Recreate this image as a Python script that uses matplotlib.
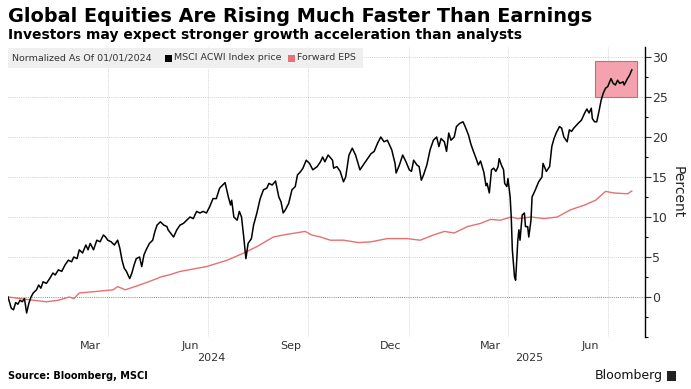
import numpy as np
import pandas as pd
import matplotlib
matplotlib.use("Agg")
import matplotlib.pyplot as plt
import matplotlib.dates as mdates
import matplotlib.transforms as mtransforms
from matplotlib.patches import Rectangle

# days since 2024-01-01 and % change
msci_day = [0, 3, 5, 7, 9, 11, 13, 15, 17, 19, 21, 23, 26, 28, 30, 32, 35, 38, 41, 43,
            46, 49, 52, 55, 58, 60, 63, 65, 68, 71, 73, 75, 78, 81, 84, 87, 89, 91, 94, 97,
            100, 102, 104, 106, 108, 111, 113, 115, 117, 120, 122, 124, 126, 129, 132, 134,
            136, 139, 142, 145, 146, 151, 154, 157, 160, 163, 166, 169, 172, 175, 178, 181,
            184, 187, 190, 193, 198, 201, 203, 204, 206, 209, 211, 213, 215, 217, 219, 222,
            224, 227, 230, 233, 236, 238, 241, 244, 247, 249, 251, 253, 256, 259, 262, 264,
            267, 269, 272, 275, 278, 282, 285, 287, 289, 292, 296, 297, 300, 303, 306, 308,
            311, 314, 317, 321, 324, 328, 331, 334, 337, 340, 343, 346, 348, 350, 353, 354,
            357, 360, 363, 366, 368, 370, 373, 375, 377, 379, 382, 385, 388, 391, 393, 395,
            398, 400, 402, 404, 407, 409, 412, 415, 417, 420, 422, 424, 427, 429, 431, 434,
            436, 437, 439, 441, 443, 445, 447, 448, 450, 452, 453, 455, 456, 458, 459, 460,
            462, 463, 465, 466, 467, 469, 471, 472, 474, 475, 477, 478, 481, 484, 487, 488,
            491, 494, 496, 498, 500, 503, 505, 507, 510, 512, 514, 516, 520, 523, 526, 528,
            530, 532, 533, 535, 537, 539, 541, 543, 545, 547, 550, 552, 554, 556, 558, 561,
            562, 565, 567, 569]
msci_pct = [0.0, -1.4, -1.6, -0.7, -0.9, -0.4, -0.6, -0.2, -2.0, -0.8, 0.0, 0.5, 0.9, 1.5,
            1.1, 1.9, 1.7, 2.3, 3.0, 2.75, 3.4, 3.2, 4.0, 4.6, 4.4, 5.0, 4.8, 5.9, 5.5, 6.5,
            5.9, 6.7, 5.9, 7.1, 6.9, 7.75, 7.5, 7.1, 6.9, 6.5, 7.1, 6.1, 4.6, 3.6, 3.2, 2.3,
            3.0, 4.0, 4.8, 5.0, 3.8, 5.25, 5.9, 6.7, 7.1, 8.2, 9.0, 9.4, 9.0, 8.8, 8.4, 7.5,
            8.4, 9.0, 9.2, 9.6, 10.0, 9.8, 10.7, 10.5, 10.7, 10.5, 11.3, 12.3, 12.3, 13.6,
            14.3, 12.5, 11.5, 12.1, 10.0, 9.6, 10.7, 10.0, 7.5, 4.8, 6.7, 7.3, 9.0, 10.5,
            12.3, 13.4, 13.6, 14.2, 14.0, 14.5, 12.5, 11.9, 10.5, 10.9, 11.7, 13.4, 13.8,
            15.25, 15.7, 16.1, 17.1, 16.7, 15.9, 16.3, 16.9, 17.5, 16.9, 17.75, 17.1, 16.1,
            16.3, 15.7, 14.4, 15.0, 17.75, 18.6, 17.75, 15.9, 16.5, 17.3, 17.9, 18.2, 19.2,
            20.0, 19.4, 19.6, 19.0, 18.4, 16.7, 15.5, 16.5, 17.75, 16.9, 15.9, 15.7, 17.1,
            16.5, 16.3, 14.6, 15.25, 16.5, 18.4, 19.6, 20.0, 18.8, 19.8, 19.4, 18.2, 20.5,
            19.6, 20.0, 21.3, 21.7, 21.9, 21.3, 20.25, 19.2, 18.4, 17.3, 16.5, 17.0, 15.6,
            13.9, 14.2, 13.0, 15.9, 16.1, 15.7, 16.3, 17.3, 16.5, 15.9, 14.2, 13.8, 14.8,
            12.5, 10.0, 5.9, 2.5, 2.1, 7.1, 8.4, 7.1, 10.25, 10.5, 8.8, 8.8, 7.5, 9.6, 12.5,
            13.4, 14.4, 15.0, 16.7, 15.7, 16.3, 18.8, 19.8, 20.5, 21.3, 21.1, 20.0, 19.4,
            20.9, 20.7, 21.1, 21.7, 22.1, 23.0, 23.5, 23.0, 23.6, 22.3, 21.9, 21.9, 23.2,
            24.6, 25.5, 26.1, 26.3, 27.3, 26.7, 26.5, 27.1, 26.7, 26.9, 26.5, 27.3, 27.75,
            28.4]

eps_day = [0, 23, 35, 46, 56, 60, 65, 81, 96, 100, 107, 120, 136, 139, 148, 157, 181,
           200, 215, 227, 242, 251, 271, 277, 285, 294, 306, 320, 331, 346, 364, 376, 388,
           398, 407, 419, 431, 440, 449, 459, 465, 477, 489, 501, 513, 526, 536, 545, 553,
           565, 569]
eps_pct = [0.0, -0.4, -0.6, -0.4, 0.0, -0.2, 0.5, 0.7, 0.9, 1.3, 0.9, 1.5, 2.3, 2.5, 2.8,
           3.2, 3.8, 4.6, 5.5, 6.3, 7.5, 7.75, 8.2, 7.75, 7.5, 7.1, 7.1, 6.8, 6.9, 7.3,
           7.3, 7.1, 7.75, 8.2, 8.0, 8.8, 9.2, 9.7, 9.6, 10.0, 9.8, 10.0, 9.8, 10.0, 10.9,
           11.5, 12.1, 13.2, 13.0, 12.9, 13.25]

box_start, box_end = "2025-06-19", "2025-07-28"
box_low, box_high = 25.0, 29.5

month_ticks = ["2024-03-16", "2024-06-15", "2024-09-15", "2024-12-15", "2025-03-16", "2025-06-15"]
month_labels = ["Mar", "Jun", "Sep", "Dec", "Mar", "Jun"]
year_ticks = ["2024-07-04", "2025-04-20"]
year_labels = ["2024", "2025"]
quarter_lines = ["2024-04-01", "2024-07-01", "2024-10-01", "2025-01-01", "2025-04-01", "2025-07-01"]

base = pd.Timestamp("2024-01-01")
msci_dates = base + pd.to_timedelta(msci_day, unit="D")
eps_dates = base + pd.to_timedelta(eps_day, unit="D")

W, H = 691, 389
fig = plt.figure(figsize=(W / 100, H / 100), dpi=100)
ax = fig.add_axes([8 / W, 1 - 337 / H, (645 - 8) / W, (337 - 47) / H])

ax.plot(eps_dates, eps_pct, color="#e5716f", lw=1.0, zorder=3)
ax.plot(msci_dates, msci_pct, color="black", lw=1.1, zorder=4)

x0 = mdates.date2num(pd.Timestamp(box_start))
x1 = mdates.date2num(pd.Timestamp(box_end))
ax.add_patch(Rectangle((x0, box_low), x1 - x0, box_high - box_low,
                       facecolor="#f4a3ae", edgecolor="#c96a75", lw=0.8, zorder=2))

ax.set_xlim(base, pd.Timestamp("2025-08-04"))
ax.set_ylim(-5, 31.25)

# gridlines
for q in quarter_lines:
    ax.axvline(pd.Timestamp(q), color="#d0d0d0", lw=0.6, ls=(0, (1, 1.2)), zorder=1)
for yv in range(-5, 31, 5):
    c = "#8a8a8a" if yv == 0 else "#d0d0d0"
    ax.axhline(yv, color=c, lw=0.7, ls=(0, (1, 1.2)), zorder=1)

ax.set_xticks([pd.Timestamp(d) for d in month_ticks])
ax.set_xticklabels(month_labels)
ax.tick_params(axis="x", which="both", length=0, pad=3, labelsize=8, colors="#333333")

# year labels on a second row
trans = mtransforms.blended_transform_factory(ax.transData, ax.transAxes)
for d, lab in zip(year_ticks, year_labels):
    ax.text(pd.Timestamp(d), -21 / 290, lab, transform=trans, ha="center", va="center",
            fontsize=8, color="#333333")

ax.yaxis.tick_right()
ax.yaxis.set_label_position("right")
ax.set_yticks(range(0, 31, 5))
ax.set_yticks(np.arange(-5, 31, 2.5), minor=True)
ax.tick_params(axis="y", which="major", length=4, width=0.8, pad=1, labelsize=9, colors="#333333")
ax.tick_params(axis="y", which="minor", length=2.5, width=0.8)
ax.set_ylabel("Percent", rotation=270, fontsize=10, labelpad=12, color="#222222")

for s in ["top", "left", "bottom"]:
    ax.spines[s].set_visible(False)
ax.spines["right"].set_linewidth(1.0)

# titles
fig.text(8 / W, 1 - 17 / H, "Global Equities Are Rising Much Faster Than Earnings",
         fontsize=13.9, fontweight="bold", va="center", ha="left")
fig.text(8 / W, 1 - 35 / H, "Investors may expect stronger growth acceleration than analysts",
         fontsize=10, fontweight="bold", va="center", ha="left")

# legend bar
fig.patches.append(Rectangle((8 / W, 1 - 68 / H), (363 - 8) / W, 20 / H,
                             transform=fig.transFigure, facecolor="#efefef", edgecolor="none", zorder=5))
ly = 1 - 58 / H
fig.text(12 / W, ly, "Normalized As Of 01/01/2024", fontsize=6.8, va="center", color="#333333", zorder=6)
fig.patches.append(Rectangle((165 / W, ly - 3.5 / H), 7 / W, 7 / H, transform=fig.transFigure,
                             facecolor="black", edgecolor="none", zorder=6))
fig.text(174 / W, ly, "MSCI ACWI Index price", fontsize=6.8, va="center", color="#333333", zorder=6)
fig.patches.append(Rectangle((288 / W, ly - 3.5 / H), 7 / W, 7 / H, transform=fig.transFigure,
                             facecolor="#e8707a", edgecolor="none", zorder=6))
fig.text(297 / W, ly, "Forward EPS", fontsize=6.8, va="center", color="#333333", zorder=6)

# footer
fig.text(8 / W, 1 - 376 / H, "Source: Bloomberg, MSCI", fontsize=7, fontweight="bold", va="center")
fig.text(663 / W, 1 - 376 / H, "Bloomberg", fontsize=9, va="center", ha="right", color="#111111")
fig.patches.append(Rectangle((667 / W, 1 - 381 / H), 9 / W, 10 / H, transform=fig.transFigure,
                             facecolor="#222222", edgecolor="none"))

fig.savefig("out.png", dpi=100)
